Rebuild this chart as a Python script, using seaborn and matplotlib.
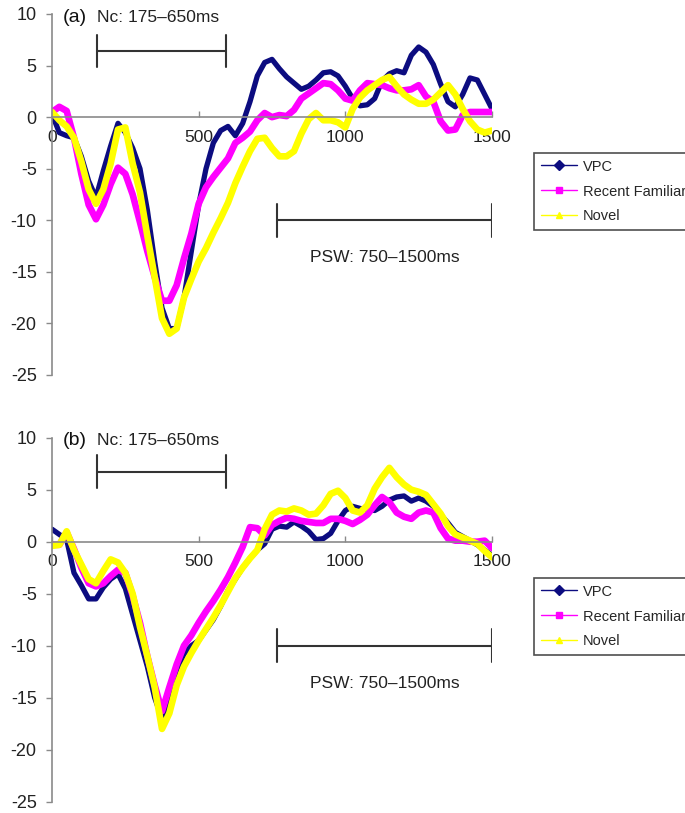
import numpy as np
import pandas as pd
import matplotlib
matplotlib.use('Agg')
import matplotlib.pyplot as plt
import seaborn as sns
from matplotlib.lines import Line2D

# %% data (25 ms steps)

times = list(range(0, 1501, 25))
conditions = ['VPC', 'Recent Familiar', 'Novel']

a_vpc = [0.3, -1.5, -1.8, -2.0, -3.8, -6.2, -7.8, -5.2, -2.8, -0.6, -1.5, -3.0,
         -5.0, -9.0, -14.0, -18.5, -20.5, -20.5, -17.5, -13.0, -8.5, -5.0, -2.5,
         -1.3, -0.9, -1.8, -0.6, 1.5,
         4.0, 5.3, 5.6, 4.7, 3.9, 3.3, 2.7, 3.0, 3.6, 4.3, 4.4, 4.0, 3.0, 1.8,
         1.1, 1.2, 1.8, 3.5, 4.2, 4.5, 4.3, 6.0, 6.8, 6.3, 5.1, 3.2, 1.5, 1.0,
         2.2, 3.8, 3.6, 2.2, 0.8]
a_recent = [0.5, 1.0, 0.6, -2.0, -5.5, -8.5, -9.9, -8.5, -6.5, -4.9, -5.5, -7.5,
            -10.2, -13.0, -15.5, -17.8, -17.8, -16.3, -13.7, -11.3, -8.4, -6.8,
            -5.8, -4.9, -4.0, -2.5, -2.0, -1.4,
            -0.3, 0.4, 0.0, 0.2, 0.1, 0.7, 1.8, 2.3, 2.8, 3.3, 3.2, 2.6, 1.8, 1.6,
            2.6, 3.3, 3.2, 3.1, 2.8, 2.6, 2.6, 2.7, 3.1, 2.0, 1.5, -0.4, -1.3,
            -1.2, 0.2, 0.5, 0.5, 0.5, 0.5]
a_novel = [0.5, -0.3, -0.9, -2.0, -4.3, -7.0, -8.4, -7.0, -4.5, -1.2, -1.0, -4.5,
           -7.3, -11.5, -15.5, -19.5, -21.0, -20.5, -17.5, -15.7, -14.0, -12.7,
           -11.2, -9.8, -8.3, -6.4, -4.8, -3.3,
           -2.1, -2.0, -3.0, -3.8, -3.8, -3.3, -1.6, -0.2, 0.4, -0.3, -0.3, -0.5,
           -1.0, 0.8, 1.9, 2.6, 3.1, 3.6, 3.9, 3.0, 2.2, 1.7, 1.3, 1.3, 1.7, 2.4,
           3.1, 2.2, 0.8, -0.4, -1.2, -1.5, -1.3]

b_vpc = [1.2, 0.7, 0.2, -3.0, -4.2, -5.5, -5.5, -4.4, -3.6, -3.1, -4.5, -7.0,
         -9.5, -12.0, -15.0, -17.0, -15.0, -12.3, -10.8, -10.0, -9.5, -8.5, -7.5,
         -6.2, -4.7, -3.6, -2.5, -1.6,
         -0.8, -0.2, 1.2, 1.5, 1.4, 1.9, 1.5, 1.0, 0.2, 0.3, 0.8, 2.0, 3.0, 3.4,
         3.2, 3.1, 3.0, 3.4, 4.0, 4.3, 4.4, 3.9, 4.2, 3.9, 3.4, 2.6, 1.8, 0.9,
         0.5, 0.1, -0.3, -0.8, -1.3]
b_recent = [-0.3, -0.3, 0.9, -0.7, -2.5, -4.0, -4.3, -4.0, -3.3, -2.7, -3.0, -5.2,
            -7.8, -11.0, -13.8, -16.3, -14.0, -11.8, -10.0, -9.0, -7.8, -6.7,
            -5.7, -4.6, -3.4, -2.0, -0.5, 1.4,
            1.3, 0.6, 1.6, 2.0, 2.3, 2.2, 2.0, 1.9, 1.8, 1.8, 2.2, 2.2, 2.0, 1.7,
            2.1, 2.6, 3.5, 4.3, 3.8, 2.8, 2.4, 2.2, 2.8, 3.0, 2.8, 1.3, 0.3, 0.1,
            0.1, 0.0, 0.0, 0.1, -0.6]
b_novel = [-0.4, -0.3, 1.0, -0.8, -2.2, -3.6, -4.0, -2.8, -1.7, -2.0, -3.0, -5.0,
           -8.2, -11.0, -14.0, -18.0, -16.5, -13.8, -12.0, -10.7, -9.5, -8.4,
           -7.3, -6.1, -4.8, -3.5, -2.5, -1.6,
           -0.8, 1.2, 2.6, 3.0, 2.9, 3.2, 3.0, 2.6, 2.7, 3.5, 4.6, 4.9, 4.2, 3.0,
           2.8, 3.5, 5.1, 6.2, 7.1, 6.2, 5.5, 5.0, 4.8, 4.5, 3.6, 2.7, 1.5, 0.7,
           0.4, 0.1, -0.2, -0.9, -1.5]

x_ticks = [0, 500, 1000, 1500]
y_ticks = [10, 5, 0, -5, -10, -15, -20, -25]

# %% style

sns.set_style('white')
plt.rcParams['font.family'] = ['Liberation Sans', 'DejaVu Sans']
plt.rcParams['axes.unicode_minus'] = False

colors = {'VPC': '#0c0c80', 'Recent Familiar': '#ff00ff', 'Novel': '#ffff00'}
widths = {'VPC': 3.8, 'Recent Familiar': 4.8, 'Novel': 4.8}
markers = {'VPC': 'D', 'Recent Familiar': 's', 'Novel': '^'}
axis_grey = '#8a8a8a'
ink = '#333333'

W, H = 685, 813
fig = plt.figure(figsize=(W / 100, H / 100), dpi=100)


def panel(ax, series, tag, legend_top, nc_y):
    df = pd.DataFrame({'time': times * 3,
                       'amp': series[0] + series[1] + series[2],
                       'cond': np.repeat(conditions, len(times))})
    for c in conditions:
        sns.lineplot(data=df[df['cond'] == c], x='time', y='amp', color=colors[c],
                     linewidth=widths[c], ax=ax, legend=False, sort=False)

    ax.set_xlim(0, 1500)
    ax.set_ylim(-25, 10)
    ax.set_xticks(x_ticks)
    ax.set_yticks(y_ticks)
    ax.set_xlabel('')
    ax.set_ylabel('')
    ax.spines['top'].set_visible(False)
    ax.spines['right'].set_visible(False)
    ax.spines['bottom'].set_position(('data', 0))
    for s in ['left', 'bottom']:
        ax.spines[s].set_color(axis_grey)
        ax.spines[s].set_linewidth(1.2)
    ax.tick_params(axis='y', direction='out', length=4, width=1, color=axis_grey,
                   labelsize=13, labelcolor='#222222', pad=7, left=True)
    ax.tick_params(axis='x', direction='in', length=4, width=1, color=axis_grey,
                   labelsize=12.5, labelcolor='#222222', pad=9, bottom=True)
    ax.patch.set_alpha(0)

    # Nc window bracket
    ax.plot([153, 593], [nc_y, nc_y], color=ink, lw=1.5)
    ax.plot([153, 153], [nc_y - 1.5, nc_y + 1.6], color=ink, lw=1.5)
    ax.plot([593, 593], [nc_y - 1.5, nc_y + 1.6], color=ink, lw=1.5)
    ax.text(35, 9.7, tag, fontsize=14, va='center', ha='left', color='#111111')
    ax.text(153, 9.7, 'Nc: 175\u2013650ms', fontsize=12.5, va='center', ha='left',
            color='#222222')

    # PSW window bracket
    ax.plot([766, 1500], [-10, -10], color=ink, lw=1.5)
    ax.plot([766, 766], [-8.4, -11.6], color=ink, lw=1.5)
    ax.plot([1500, 1500], [-8.4, -11.6], color=ink, lw=1.5)
    ax.text(1135, -13.6, 'PSW: 750\u20131500ms', fontsize=12.5, va='center',
            ha='center', color='#222222')

    handles = [Line2D([0], [0], color=colors[c], lw=1, marker=markers[c],
                      markersize=5, markerfacecolor=colors[c],
                      markeredgecolor=colors[c]) for c in conditions]
    leg = ax.legend(handles, conditions, loc='upper left',
                    bbox_to_anchor=(534 / W, 1 - legend_top / H),
                    bbox_transform=fig.transFigure, fontsize=10.5, frameon=True,
                    fancybox=False, shadow=False, borderpad=0.45,
                    labelspacing=0.75, handlelength=2.5, handletextpad=0.4,
                    borderaxespad=0)
    leg.get_frame().set_edgecolor('#222222')
    leg.get_frame().set_linewidth(1.2)


ax_a = fig.add_axes([52 / W, 1 - 375 / H, 440 / W, 361 / H])
panel(ax_a, [a_vpc, a_recent, a_novel], '(a)', 153, 6.4)

ax_b = fig.add_axes([52 / W, 1 - 801.7 / H, 440 / W, 364 / H])
panel(ax_b, [b_vpc, b_recent, b_novel], '(b)', 578, 6.7)

plt.savefig('out.png', dpi=100)
plt.close()
